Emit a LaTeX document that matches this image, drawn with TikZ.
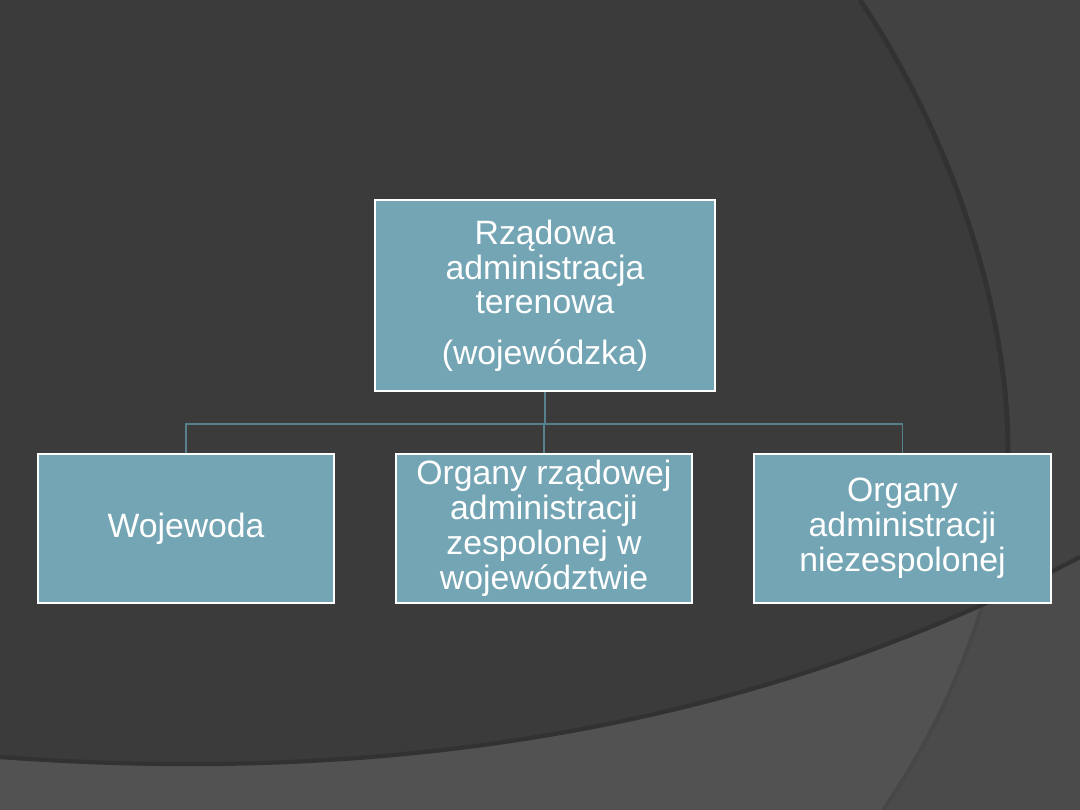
\documentclass[tikz,border=0pt]{standalone}
\usepackage{fontspec}
\setmainfont{Liberation Sans}
\usetikzlibrary{positioning}
\definecolor{Slide}{HTML}{3B3B3B}
\definecolor{SlideRight}{HTML}{424242}
\definecolor{SlideLow}{HTML}{525252}
\definecolor{SlideCorner}{HTML}{4B4B4B}
\definecolor{Groove}{HTML}{323232}
\definecolor{GrooveLow}{HTML}{474747}
\definecolor{BoxFill}{HTML}{74A5B4}
\definecolor{Link}{HTML}{55808C}

\begin{document}
\begin{tikzpicture}[x=0.025cm, y=-0.025cm,
  every node/.style={font=\fontsize{24}{24.8}\selectfont, text=white, align=center},
  unit/.style={draw=white, line width=1.4pt, fill=BoxFill, minimum width=7.4cm, minimum height=3.725cm, inner sep=0pt},
  link/.style={Link, line width=1.4pt}]
  \useasboundingbox (0,0) rectangle (1080,810);
  \fill[Slide] (0,0) rectangle (1080,810);
  \fill[SlideRight] (860,0) .. controls (960,150) and (1008,320) .. (1008,450) .. controls (1008,560) and (960,700) .. (883,810) -- (1080,810) -- (1080,0) -- cycle;
  \fill[SlideLow] (0,757) .. controls (450,790) and (800,705) .. (1080,557) -- (1080,810) -- (0,810) -- cycle;
  \begin{scope}
    \clip (0,757) .. controls (450,790) and (800,705) .. (1080,557) -- (1080,810) -- (0,810) -- cycle;
    \fill[SlideCorner] (1008,450) .. controls (1008,560) and (960,700) .. (883,810) -- (1080,810) -- (1080,450) -- cycle;
    \draw[GrooveLow, line width=2.8pt] (1008,450) .. controls (1008,560) and (960,700) .. (883,810);
  \end{scope}
  \begin{scope}
    \clip (0,0) -- (1080,0) -- (1080,557) .. controls (800,705) and (450,790) .. (0,757) -- cycle;
    \draw[Groove, line width=3.5pt] (860,0) .. controls (960,150) and (1008,320) .. (1008,450) .. controls (1008,560) and (960,700) .. (883,810);
  \end{scope}
  \draw[Groove, line width=3pt] (0,757) .. controls (450,790) and (800,705) .. (1080,557);

  \node[unit, minimum width=8.5cm, minimum height=4.775cm] (top) at (545,295.5) {Rządowa\\administracja\\terenowa\\[11pt](wojewódzka)};
  \node[unit] (wojewoda) at (186,528.5) {Wojewoda};
  \node[unit] (zespolone) at (544,528.5) {Organy rządowej\\administracji\\zespolonej w\\województwie};
  \node[unit] (niezespolone) at (902.5,528.5) {Organy\\administracji\\niezespolonej};
  \coordinate (bus) at (545,424);
  \draw[link] (top.south) -- (bus);
  \draw[link] (wojewoda.north) |- (bus) -| (niezespolone.north);
  \draw[link] (zespolone.north) -- (zespolone.north |- bus);
\end{tikzpicture}
\end{document}
